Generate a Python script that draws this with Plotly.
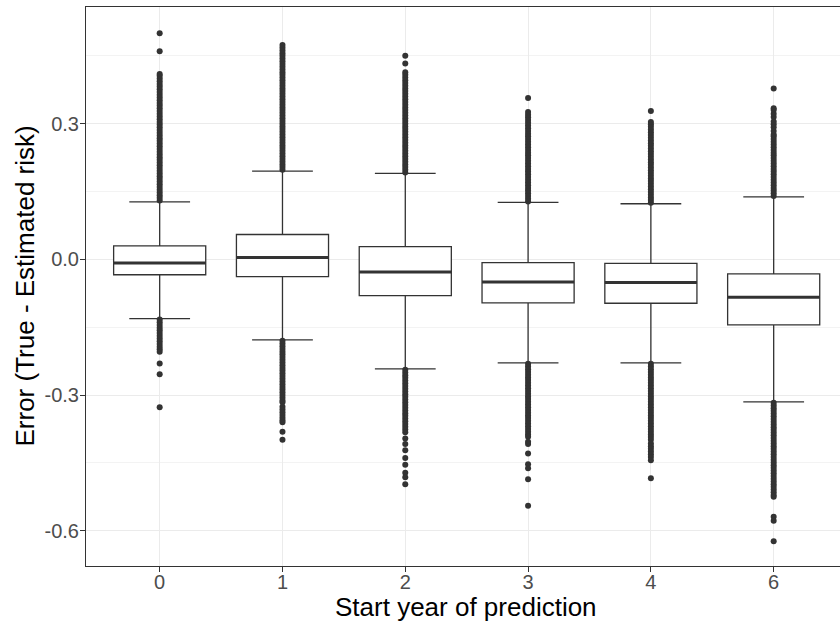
import plotly.graph_objects as go

# ---------------- data ----------------
categories = ["0", "1", "2", "3", "4", "6"]
q1 = [-0.034, -0.038, -0.080, -0.096, -0.097, -0.145]
median = [-0.008, 0.004, -0.028, -0.050, -0.051, -0.084]
q3 = [0.030, 0.055, 0.028, -0.007, -0.009, -0.032]
lower_whisker = [-0.131, -0.178, -0.242, -0.229, -0.229, -0.315]
upper_whisker = [0.127, 0.195, 0.190, 0.126, 0.123, 0.138]

out_0 = [0.130, 0.136, 0.142, 0.148, 0.154, 0.160, 0.166, 0.172, 0.178, 0.184, 0.190, 0.196,
         0.202, 0.208, 0.214, 0.220, 0.226, 0.232, 0.238, 0.244, 0.250, 0.256, 0.262, 0.268,
         0.274, 0.280, 0.286, 0.292, 0.298, 0.304, 0.310, 0.316, 0.322, 0.328, 0.334, 0.340,
         0.346, 0.352, 0.358, 0.364, 0.370, 0.376, 0.382, 0.388, 0.394, 0.400, 0.406, 0.410,
         0.460, 0.500,
         -0.133, -0.139, -0.145, -0.151, -0.157, -0.163, -0.169, -0.175, -0.181, -0.187,
         -0.193, -0.199, -0.204, -0.230, -0.254, -0.327]
out_1 = [0.198, 0.204, 0.210, 0.216, 0.222, 0.228, 0.234, 0.240, 0.246, 0.252, 0.258, 0.264,
         0.270, 0.276, 0.282, 0.288, 0.294, 0.300, 0.306, 0.312, 0.318, 0.324, 0.330, 0.336,
         0.342, 0.348, 0.354, 0.360, 0.366, 0.372, 0.378, 0.384, 0.390, 0.396, 0.402, 0.408,
         0.414, 0.420, 0.426, 0.432, 0.438, 0.444, 0.450, 0.456, 0.462, 0.468, 0.474,
         -0.180, -0.186, -0.192, -0.198, -0.204, -0.210, -0.216, -0.222, -0.228, -0.234,
         -0.240, -0.246, -0.252, -0.258, -0.264, -0.270, -0.276, -0.282, -0.288, -0.294,
         -0.300, -0.306, -0.312, -0.316, -0.326, -0.332, -0.338, -0.344, -0.350, -0.356,
         -0.360, -0.381, -0.399]
out_2 = [0.192, 0.198, 0.204, 0.210, 0.216, 0.222, 0.228, 0.234, 0.240, 0.246, 0.252, 0.258,
         0.264, 0.270, 0.276, 0.282, 0.288, 0.294, 0.300, 0.306, 0.312, 0.318, 0.324, 0.330,
         0.336, 0.342, 0.348, 0.354, 0.360, 0.366, 0.372, 0.378, 0.384, 0.390, 0.396, 0.402,
         0.408, 0.414, 0.433, 0.450,
         -0.244, -0.250, -0.256, -0.262, -0.268, -0.274, -0.280, -0.286, -0.292, -0.298,
         -0.304, -0.310, -0.316, -0.322, -0.328, -0.334, -0.340, -0.346, -0.352, -0.358,
         -0.364, -0.370, -0.376, -0.382, -0.396, -0.408, -0.422, -0.439, -0.454, -0.472,
         -0.482, -0.497]
out_3 = [0.128, 0.134, 0.140, 0.146, 0.152, 0.158, 0.164, 0.170, 0.176, 0.182, 0.188, 0.194,
         0.200, 0.206, 0.212, 0.218, 0.224, 0.230, 0.236, 0.242, 0.248, 0.254, 0.260, 0.266,
         0.272, 0.278, 0.284, 0.290, 0.296, 0.302, 0.308, 0.314, 0.320, 0.326, 0.357,
         -0.231, -0.237, -0.243, -0.249, -0.255, -0.261, -0.267, -0.273, -0.279, -0.285,
         -0.291, -0.297, -0.303, -0.309, -0.315, -0.321, -0.327, -0.333, -0.339, -0.345,
         -0.351, -0.357, -0.363, -0.369, -0.375, -0.381, -0.387, -0.392, -0.403, -0.408,
         -0.429, -0.453, -0.462, -0.486, -0.545]
out_4 = [0.125, 0.131, 0.137, 0.143, 0.149, 0.155, 0.161, 0.167, 0.173, 0.179, 0.185, 0.191,
         0.197, 0.203, 0.209, 0.215, 0.221, 0.227, 0.233, 0.239, 0.245, 0.251, 0.257, 0.263,
         0.269, 0.275, 0.281, 0.287, 0.293, 0.299, 0.304, 0.328,
         -0.231, -0.237, -0.243, -0.249, -0.255, -0.261, -0.267, -0.273, -0.279, -0.285,
         -0.291, -0.297, -0.303, -0.309, -0.315, -0.321, -0.327, -0.333, -0.339, -0.345,
         -0.351, -0.357, -0.363, -0.369, -0.375, -0.381, -0.387, -0.393, -0.399, -0.407,
         -0.413, -0.419, -0.425, -0.431, -0.437, -0.444, -0.484]
out_6 = [0.140, 0.146, 0.152, 0.158, 0.164, 0.170, 0.176, 0.182, 0.188, 0.194, 0.200, 0.206,
         0.212, 0.218, 0.224, 0.230, 0.236, 0.242, 0.248, 0.254, 0.260, 0.266, 0.272, 0.276,
         0.284, 0.292, 0.299, 0.305, 0.315, 0.322, 0.330, 0.334, 0.378,
         -0.317, -0.323, -0.329, -0.335, -0.341, -0.347, -0.353, -0.359, -0.365, -0.371,
         -0.377, -0.383, -0.389, -0.395, -0.401, -0.407, -0.413, -0.419, -0.425, -0.431,
         -0.437, -0.443, -0.449, -0.455, -0.461, -0.467, -0.473, -0.479, -0.485, -0.491,
         -0.497, -0.503, -0.509, -0.515, -0.521, -0.525, -0.569, -0.578, -0.623]
outliers = [out_0, out_1, out_2, out_3, out_4, out_6]

y_tick_vals = [-0.6, -0.3, 0.0, 0.3]
y_tick_text = ["-0.6", "-0.3", "0.0", "0.3"]
y_minor_vals = [-0.45, -0.15, 0.15, 0.45]

x_title = "Start year of prediction"
y_title = "Error (True - Estimated risk)"

# ---------------- figure ----------------
positions = list(range(len(categories)))
box_w = 0.75
ink = "#333333"
FONT = "Liberation Sans, Arial, Helvetica, sans-serif"

fig = go.Figure()

fig.add_trace(go.Box(
    x=positions, q1=q1, median=median, q3=q3,
    lowerfence=lower_whisker, upperfence=upper_whisker,
    boxpoints=False, width=box_w, whiskerwidth=0.66,
    fillcolor="white", line=dict(color=ink, width=1.3),
    showlegend=False, hoverinfo="skip",
))

ox, oy = [], []
for p, vals in zip(positions, outliers):
    ox += [p] * len(vals)
    oy += vals
fig.add_trace(go.Scatter(
    x=ox, y=oy, mode="markers",
    marker=dict(color=ink, size=6, line=dict(width=0)),
    showlegend=False, hoverinfo="skip",
))

mx, my = [], []
for p, m in zip(positions, median):
    mx += [p - box_w / 2, p + box_w / 2, None]
    my += [m, m, None]
fig.add_trace(go.Scatter(
    x=mx, y=my, mode="lines", line=dict(color=ink, width=3),
    showlegend=False, hoverinfo="skip",
))

W, H = 840, 624
L, R, T, B = 86, 0, 7, 58
px_per_cat = 122.8
x_lo = -0.6
x_hi = x_lo + (W - L - R) / px_per_cat

fig.update_layout(
    width=W, height=H,
    margin=dict(l=L, r=R, t=T, b=B, pad=0, autoexpand=False),
    paper_bgcolor="white", plot_bgcolor="white",
    font=dict(family=FONT, color="#4D4D4D", size=20),
    hovermode=False,
    xaxis=dict(
        range=[x_lo, x_hi], tickmode="array", tickvals=positions, ticktext=categories,
        showgrid=True, gridcolor="#EBEBEB", gridwidth=1,
        zeroline=False, showline=True, linecolor=ink, linewidth=1, mirror=True,
        ticks="outside", ticklen=5, tickcolor=ink, tickwidth=1,
        ticklabelstandoff=-7,
        tickfont=dict(size=20, color="#4D4D4D"),
    ),
    yaxis=dict(
        range=[-0.678, 0.558], tickmode="array", tickvals=y_tick_vals, ticktext=y_tick_text,
        showgrid=True, gridcolor="#EBEBEB", gridwidth=1,
        minor=dict(tickmode="array", tickvals=y_minor_vals, showgrid=True,
                   gridcolor="#F0F0F0", gridwidth=0.8, ticks=""),
        zeroline=False, showline=True, linecolor=ink, linewidth=1, mirror=False,
        ticks="outside", ticklen=5, tickcolor=ink, tickwidth=1,
        ticklabelstandoff=-3,
        tickfont=dict(size=20, color="#4D4D4D"),
    ),
    annotations=[
        dict(text=x_title, xref="paper", yref="paper", x=(466 - L) / (W - L - R),
             y=-(607 - (H - B)) / (H - B - T), xanchor="center", yanchor="middle",
             showarrow=False, font=dict(size=26, color="black", family=FONT)),
        dict(text=y_title, xref="paper", yref="paper", x=-(L - 24) / (W - L - R),
             y=0.5, xanchor="center", yanchor="middle", textangle=-90,
             showarrow=False, font=dict(size=26, color="black", family=FONT)),
    ],
)

fig.write_html(
    "out.html",
    config={"displayModeBar": False, "staticPlot": True},
    post_script="document.body.style.margin='0px';document.body.style.overflow='hidden';",
)
